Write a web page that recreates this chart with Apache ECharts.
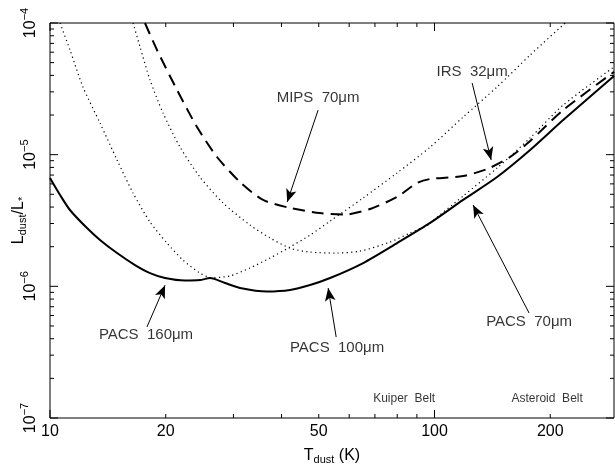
<!DOCTYPE html>
<html><head><meta charset="utf-8">
<script src="https://cdn.jsdelivr.net/npm/echarts@6/dist/echarts.min.js"></script>
<style>html,body{margin:0;padding:0;background:#fff}#c{width:615px;height:470px}</style>
</head><body><div id="c"></div>
<script>
const FONT = '"Liberation Sans", Arial, Helvetica, sans-serif';
const T_MIN = 10, T_MAX = 293, L_MIN = 1e-7, L_MAX = 1e-4;

// axis ticks / labels
const xTickLabels = [10, 20, 50, 100, 200];
const xMajorTicks = [10, 100];
const xMinorTicks = [20, 30, 40, 50, 60, 70, 80, 90, 200];
const yMajorTicks = [1e-7, 1e-6, 1e-5, 1e-4];
const yMinorTicks = [];
[1e-7, 1e-6, 1e-5].forEach(d => { for (let k = 2; k <= 9; k++) yMinorTicks.push(k * d); });

// Combined PACS limit (solid)
const pacsBestT = [10, 10.62, 11.27, 12.48, 13.49, 14.94, 16.64, 18.20, 19.92, 22.45, 24.55, 26.07, 28.53, 31.21, 36.69, 42.10, 47.47, 53.51, 65.23, 79.90, 97.4, 118.7, 145.5, 177.3, 216.1, 293];
const pacsBestL = [6.65e-6, 4.94e-6, 3.80e-6, 2.77e-6, 2.25e-6, 1.79e-6, 1.45e-6, 1.26e-6, 1.156e-6, 1.107e-6, 1.116e-6, 1.156e-6, 1.059e-6, 0.971e-6, 0.913e-6, 0.937e-6, 1.023e-6, 1.156e-6, 1.503e-6, 2.13e-6, 3.03e-6, 4.53e-6, 6.76e-6, 1.084e-5, 1.83e-5, 3.95e-5];

// Combined Spitzer (MIPS 70 / IRS 32) limit (dashed)
const spitzerT = [17.66, 18.98, 21.40, 24.12, 27.19, 31.21, 35.82, 42.10, 50.39, 58.54, 68.02, 79.90, 90.1, 97.4, 118.7, 137.1, 157.3, 177.3, 216.1, 293];
const spitzerL = [1.0e-4, 6.24e-5, 3.10e-5, 1.62e-5, 9.60e-6, 6.19e-6, 4.53e-6, 3.94e-6, 3.60e-6, 3.51e-6, 3.87e-6, 4.77e-6, 6.10e-6, 6.53e-6, 6.89e-6, 7.78e-6, 9.60e-6, 1.27e-5, 2.18e-5, 4.25e-5];

// Individual PACS bands where not the best (dotted)
const pacs100LowT = [10.62, 11.27, 12.18, 13.49, 14.94, 16.44, 18.20, 20.16, 22.18, 24.55, 26.07];
const pacs100LowL = [1.0e-4, 6.24e-5, 3.27e-5, 1.74e-5, 9.12e-6, 5.12e-6, 3.08e-6, 2.13e-6, 1.58e-6, 1.26e-6, 1.156e-6];
const pacs100HighT = [97.4, 118.7, 145.5, 177.3, 216.1, 293];
const pacs100HighL = [3.03e-6, 4.85e-6, 7.92e-6, 1.34e-5, 2.38e-5, 4.64e-5];
const pacs70LowT = [16.44, 17.15, 18.20, 19.68, 21.79, 24.55, 28.18, 33.14, 37.35, 42.10, 47.47, 55.14, 64.06, 76.65, 86.4, 97.4];
const pacs70LowL = [1.0e-4, 6.58e-5, 3.69e-5, 2.07e-5, 1.14e-5, 6.76e-6, 4.30e-6, 2.92e-6, 2.33e-6, 1.95e-6, 1.82e-6, 1.79e-6, 1.85e-6, 2.17e-6, 2.54e-6, 2.97e-6];
const pacs160HighT = [26.07, 29.40, 33.14, 37.35, 42.10, 47.47, 53.51, 65.23, 79.90, 97.4, 118.7, 145.5, 177.3, 218.7];
const pacs160HighL = [1.156e-6, 1.20e-6, 1.38e-6, 1.64e-6, 1.99e-6, 2.45e-6, 3.13e-6, 4.69e-6, 7.26e-6, 1.14e-5, 1.93e-5, 3.27e-5, 5.71e-5, 1.0e-4];

// Annotations (data coordinates)
const labelNames = ['PACS  160μm', 'PACS  100μm', 'PACS  70μm', 'IRS  32μm', 'MIPS  70μm'];
const labelT = [17.77, 55.8, 176.2, 125.3, 49.8];
const labelL = [4.26e-7, 3.40e-7, 5.36e-7, 4.25e-5, 2.69e-5];
const arrowFromT = [17.87, 55.5, 176.2, 125.3, 49.8];
const arrowFromL = [4.91e-7, 4.12e-7, 6.27e-7, 3.50e-5, 2.18e-5];
const arrowToT = [19.92, 52.9, 126.0, 140.4, 41.4];
const arrowToL = [1.02e-6, 9.71e-7, 4.15e-6, 9.11e-6, 4.37e-6];
const beltNames = ['Kuiper  Belt', 'Asteroid  Belt'];
const beltT = [83.4, 196.3];
const beltL = [1.39e-7, 1.39e-7];

const zip = (a, b) => a.map((v, i) => [v, b[i]]);

function lineSeries(name, T, L, style) {
  return {
    name, type: 'line', data: zip(T, L), showSymbol: false, symbol: 'none',
    smooth: 0.25, lineStyle: style, silent: true, z: 3
  };
}

function tickRender(params, api) {
  const cs = params.coordSys;
  const isX = api.value(3) === 0;
  const len = api.value(2) ? 8 : 4;
  const p = api.coord([api.value(0), api.value(1)]);
  const st = { stroke: '#000', lineWidth: 1, fill: null };
  if (isX) {
    const b = cs.y + cs.height;
    return { type: 'group', children: [
      { type: 'line', shape: { x1: p[0], y1: b, x2: p[0], y2: b - len }, style: st },
      { type: 'line', shape: { x1: p[0], y1: cs.y, x2: p[0], y2: cs.y + len }, style: st }
    ]};
  }
  const r = cs.x + cs.width;
  return { type: 'group', children: [
    { type: 'line', shape: { x1: cs.x, y1: p[1], x2: cs.x + len, y2: p[1] }, style: st },
    { type: 'line', shape: { x1: r, y1: p[1], x2: r - len, y2: p[1] }, style: st }
  ]};
}
// [T, L, isMajor, axis(0=x,1=y)] ; the unused coordinate is any in-range value
const tickData = xMajorTicks.map(t => [t, 1e-6, 1, 0])
  .concat(xMinorTicks.map(t => [t, 1e-6, 0, 0]))
  .concat(yMajorTicks.map(l => [20, l, 1, 1]))
  .concat(yMinorTicks.map(l => [20, l, 0, 1]));

const chart = echarts.init(document.getElementById('c'), null, { renderer: 'canvas' });
chart.setOption({
  animation: false,
  backgroundColor: '#fff',
  textStyle: { fontFamily: FONT, color: '#000' },
  grid: { left: 50, top: 23, width: 564, height: 395, show: true, borderColor: '#000', borderWidth: 1, containLabel: false, outerBoundsMode: 'none' },
  xAxis: {
    type: 'log', logBase: 10, min: T_MIN, max: T_MAX,
    axisLine: { show: false }, axisTick: { show: false }, splitLine: { show: false }, minorTick: { show: false },
    axisLabel: { customValues: xTickLabels, formatter: v => String(Math.round(v)), fontSize: 16, color: '#000', fontFamily: FONT, margin: 6, showMinLabel: true, showMaxLabel: true },
    name: 'T{sub|dust} (K)', nameLocation: 'middle', nameGap: 28, nameMoveOverlap: false,
    nameTextStyle: { fontSize: 16, color: '#000', fontFamily: FONT, rich: { sub: { fontSize: 11, fontFamily: FONT, color: '#000', padding: [8, 0, 0, 0] } } }
  },
  yAxis: {
    type: 'log', logBase: 10, min: L_MIN, max: L_MAX,
    axisLine: { show: false }, axisTick: { show: false }, splitLine: { show: false }, minorTick: { show: false },
    axisLabel: {
      show: true, rotate: 90, margin: 8, color: '#000', showMinLabel: true, showMaxLabel: true,
      customValues: yMajorTicks,
      formatter: v => '{b|10}{s|−' + Math.abs(Math.round(Math.log10(v))) + '}',
      rich: {
        b: { fontSize: 16, fontFamily: FONT, color: '#000' },
        s: { fontSize: 11, fontFamily: FONT, color: '#000', padding: [0, 0, 12, 0] }
      }
    },
    name: 'L{sub|dust}/L{sub|*}', nameLocation: 'middle', nameRotate: 90, nameGap: 22, nameMoveOverlap: false,
    nameTextStyle: { fontSize: 16, color: '#000', fontFamily: FONT, rich: { sub: { fontSize: 11, fontFamily: FONT, color: '#000', padding: [8, 0, 0, 0] } } }
  },
  series: [
    lineSeries('PACS 100 (low T)', pacs100LowT, pacs100LowL, { color: '#000', width: 1.2, type: [1.2, 3.3] }),
    lineSeries('PACS 100 (high T)', pacs100HighT, pacs100HighL, { color: '#000', width: 1.2, type: [1.2, 3.3] }),
    lineSeries('PACS 70 (low T)', pacs70LowT, pacs70LowL, { color: '#000', width: 1.2, type: [1.2, 3.3] }),
    lineSeries('PACS 160 (high T)', pacs160HighT, pacs160HighL, { color: '#000', width: 1.2, type: [1.2, 3.3] }),
    lineSeries('Spitzer', spitzerT, spitzerL, { color: '#000', width: 2, type: [12, 7] }),
    lineSeries('PACS', pacsBestT, pacsBestL, { color: '#000', width: 2, type: 'solid' }),
    {
      type: 'custom', name: 'ticks', coordinateSystem: 'cartesian2d', renderItem: tickRender,
      clip: false, silent: true, z: 8, dimensions: ['t', 'l', 'major', 'axis'], encode: { x: 't', y: 'l' },
      data: tickData
    },
    {
      type: 'scatter', name: 'labels', symbolSize: 0, silent: true, z: 6,
      data: labelNames.map((n, i) => ({ name: n, value: [labelT[i], labelL[i]] })),
      label: { show: true, position: 'inside', formatter: p => p.name, fontSize: 15, fontFamily: FONT, color: '#000' },
      markLine: {
        silent: true, animation: false, symbol: ['none', 'arrow'], symbolSize: [8, 13],
        label: { show: false }, lineStyle: { color: '#000', width: 1, type: 'solid' },
        emphasis: { disabled: true },
        data: arrowFromT.map((t, i) => [{ coord: [t, arrowFromL[i]] }, { coord: [arrowToT[i], arrowToL[i]] }])
      }
    },
    {
      type: 'scatter', name: 'belts', symbolSize: 0, silent: true, z: 6,
      data: beltNames.map((n, i) => ({ name: n, value: [beltT[i], beltL[i]] })),
      label: { show: true, position: 'inside', formatter: p => p.name, fontSize: 12, fontFamily: FONT, color: '#000' }
    }
  ]
});
</script></body></html>
